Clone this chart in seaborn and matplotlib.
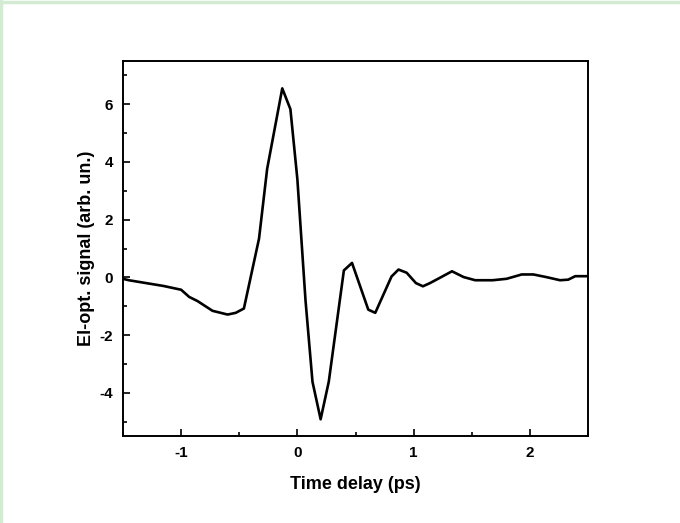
import numpy as np
import pandas as pd
import matplotlib
matplotlib.use("Agg")
import matplotlib.pyplot as plt
from matplotlib.ticker import MultipleLocator
from matplotlib.lines import Line2D
import seaborn as sns

# values
delay_ps = [-1.50, -1.45, -1.30, -1.15, -1.00, -0.93, -0.86, -0.73, -0.60, -0.53,
            -0.46, -0.33, -0.26, -0.13, -0.06, 0.00, 0.07, 0.13, 0.20, 0.27,
            0.40, 0.47, 0.61, 0.67, 0.81, 0.87, 0.94, 1.02, 1.08, 1.14,
            1.21, 1.33, 1.43, 1.53, 1.68, 1.80, 1.93, 2.03, 2.14, 2.26,
            2.33, 2.39, 2.50]
signal = [-0.05, -0.10, -0.20, -0.30, -0.43, -0.68, -0.82, -1.16, -1.29, -1.23,
          -1.08, 1.34, 3.76, 6.55, 5.83, 3.40, -0.80, -3.62, -4.92, -3.62,
          0.24, 0.50, -1.12, -1.23, 0.03, 0.27, 0.16, -0.20, -0.31, -0.20,
          -0.05, 0.21, 0.01, -0.10, -0.10, -0.05, 0.10, 0.10, 0.01, -0.10,
          -0.08, 0.04, 0.04]

df = pd.DataFrame({"delay": delay_ps, "signal": signal})

sns.set_style("ticks")
plt.rcParams['font.family'] = ['Liberation Sans', 'DejaVu Sans']
plt.rcParams['axes.unicode_minus'] = False
plt.rcParams['text.color'] = 'black'
plt.rcParams['axes.labelcolor'] = 'black'

fig = plt.figure(figsize=(6.8, 5.23), dpi=100)
ax = fig.add_axes([123/680, 1-436/523, (588-123)/680, (436-61)/523])

sns.lineplot(data=df, x="delay", y="signal", ax=ax, color="black", linewidth=1.9)

ax.set_xlim(-1.5, 2.5)
ax.set_ylim(-5.5, 7.5)
ax.xaxis.set_major_locator(MultipleLocator(1))
ax.xaxis.set_minor_locator(MultipleLocator(0.5))
ax.yaxis.set_major_locator(MultipleLocator(2))
ax.yaxis.set_minor_locator(MultipleLocator(1))
ax.tick_params(which="both", direction="in", top=False, right=False,
               width=1.2, colors="black", labelcolor="black")
ax.tick_params(which="major", length=5, labelsize=11, pad=7)
ax.tick_params(which="minor", length=3)
for lab in ax.get_xticklabels() + ax.get_yticklabels():
    lab.set_fontweight("bold")
for s in ax.spines.values():
    s.set_linewidth(1.4)
    s.set_color("black")

ax.set_xlabel("Time delay (ps)", fontsize=13, fontweight="bold", labelpad=12, color="black")
ax.set_ylabel("El-opt. signal (arb. un.)", fontsize=13, fontweight="bold", labelpad=3, color="black")

# light green frame on left and top of the image
green = "#d3ebd3"
fig.add_artist(Line2D([0.002, 0.002], [0, 1], color=green, linewidth=2.5, transform=fig.transFigure))
fig.add_artist(Line2D([0, 1], [0.997, 0.997], color=green, linewidth=2.5, transform=fig.transFigure))

fig.savefig("out.png", dpi=100)
